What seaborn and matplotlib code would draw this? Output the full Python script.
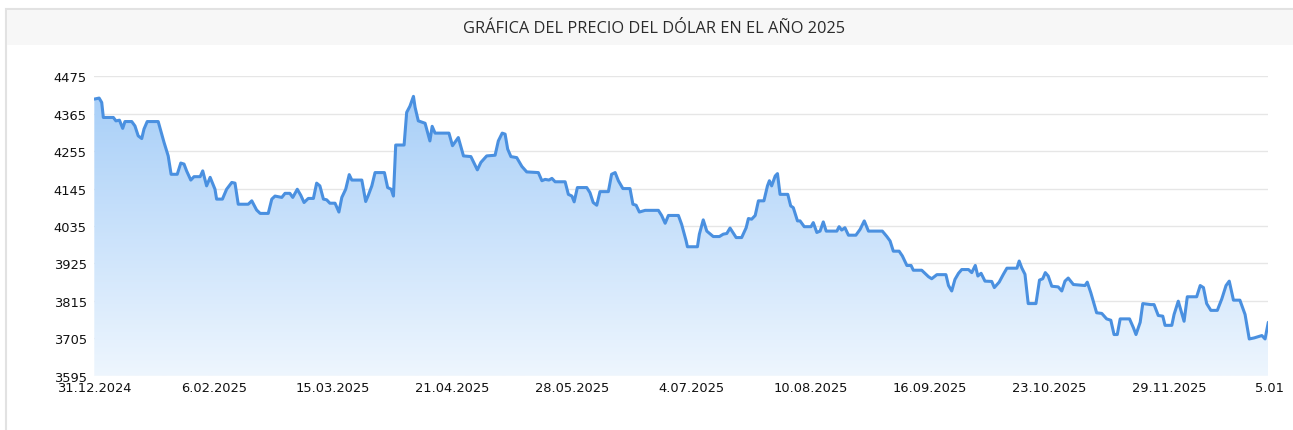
import numpy as np
import pandas as pd
import seaborn as sns
import matplotlib.pyplot as plt
from matplotlib.colors import LinearSegmentedColormap
from matplotlib.patches import Rectangle

# days counted from 31.12.2024, prices
days = [0, 1.5, 2.3, 2.8, 5.9, 6.7, 7.8, 8.8, 9.5, 11.6, 12.6, 13.6, 14.7, 15.4, 16.4, 19.8, 20.6, 21.6, 22.9, 23.8,
        25.7, 26.8, 27.8, 28.6, 29.9, 30.9, 32.8, 33.6, 34.8, 35.9, 37.4, 37.9, 39.7, 41.0, 42.6, 43.6, 44.6, 47.7, 48.8, 50.3,
        51.4, 53.9, 55.0, 56.0, 58.1, 59.1, 60.6, 61.5, 62.9, 64.0, 65.0, 66.3, 67.9, 68.9, 69.9, 71.0, 72.0, 73.0,
        74.6, 75.8, 76.7, 77.9, 79.0, 79.8, 82.9, 84.1, 84.9, 86.0, 87.0, 89.9, 90.9, 92.0, 92.7, 93.4, 96.0, 96.8, 97.8, 98.9,
        99.4, 100.4, 102.5, 104.0, 104.7, 105.6, 109.9, 111.0, 112.8, 114.4, 116.7, 118.7, 119.8, 121.6, 124.2, 125.2, 126.4,
        127.3, 128.1, 129.1, 130.9, 132.5, 134.0, 137.6, 138.7, 139.7, 140.9, 141.8, 142.8, 145.9,
        146.9, 148.0, 148.7, 149.7, 152.6, 153.6, 154.6, 155.7, 156.7, 159.3, 160.3, 161.4, 162.4, 163.8, 166.0, 166.9, 167.9,
        168.9, 170.7, 174.8, 175.8, 176.9, 177.9, 181.0, 182.0, 183.4, 183.8, 186.9, 187.5, 188.7, 189.8, 191.8, 193.7, 194.9,
        196.0, 197.0, 198.9, 200.6, 202.0, 202.7, 203.7, 204.8, 205.8, 207.5, 208.6, 209.2, 209.9, 211.0, 211.7, 212.5, 214.9,
        215.8, 216.6, 217.9, 218.7,
        220.0, 222.1, 222.8, 223.9, 224.9, 225.9, 226.8, 230.1, 230.8, 231.6, 232.6, 233.7, 236.0, 237.3, 238.6, 239.9, 244.2,
        245.6, 246.6, 247.6, 249.4, 250.4, 251.8, 253.1, 253.8, 256.4, 258.5, 259.5, 261.1, 263.9, 264.7, 265.7, 266.7, 267.8,
        268.8, 270.9, 271.9, 273.0, 273.8, 274.8, 276.0, 278.1, 278.9, 280.4, 281.7, 282.8, 285.9, 286.6, 287.4, 288.4, 289.4,
        291.8, 292.9, 293.9, 294.7, 295.6, 296.7, 298.7, 299.8, 300.8, 301.8, 303.4, 307.0, 307.7, 308.8, 310.6, 312.2, 313.7,
        315.0, 316.0, 317.0, 317.9, 320.8, 322.0, 322.8, 324.1, 324.9, 327.4, 328.4, 329.7, 331.1, 331.8, 333.9, 334.6, 335.9,
        337.7, 338.7, 341.6, 342.7, 343.7, 344.7, 346.0, 348.0, 349.4, 350.7, 351.7, 353.0, 355.0, 356.6, 357.9, 359.4, 361.8,
        362.8, 363.8]
prices = [4408, 4411, 4398, 4354, 4354, 4344, 4346, 4322, 4342, 4342, 4329, 4300, 4292, 4320, 4342, 4342, 4315, 4281, 4241, 4187,
          4187, 4220, 4217, 4197, 4170, 4180, 4180, 4197, 4153, 4178, 4143, 4114, 4114, 4143, 4163, 4161, 4099, 4099, 4109, 4082,
          4072, 4072, 4114, 4123, 4119, 4131, 4131, 4119, 4143, 4125, 4104, 4116, 4116, 4161, 4153, 4114, 4112, 4102,
          4102, 4076, 4119, 4143, 4186, 4170, 4170, 4107, 4125, 4153, 4192, 4192, 4148, 4143, 4123, 4273, 4273, 4369, 4387, 4416,
          4384, 4344, 4337, 4285, 4328, 4308, 4308, 4271, 4295, 4241, 4239, 4200, 4222, 4241, 4243, 4285, 4308,
          4305, 4261, 4239, 4236, 4210, 4194, 4192, 4168, 4172, 4170, 4175, 4165, 4165,
          4128, 4123, 4106, 4148, 4148, 4133, 4104, 4096, 4136, 4136, 4187, 4192, 4168, 4145, 4145, 4099, 4096,
          4076, 4081, 4081, 4066, 4043, 4066, 4066, 4040, 3991, 3974, 3974, 4011, 4053, 4020, 4004, 4004, 4011,
          4013, 4029, 4001, 4001, 4030, 4057, 4055, 4066, 4109, 4109, 4153, 4168, 4153, 4182, 4189, 4128, 4128,
          4094, 4089, 4050, 4050,
          4033, 4033, 4045, 4016, 4020, 4047, 4020, 4020, 4033, 4023, 4030, 4008, 4008, 4025, 4050, 4020, 4020,
          4004, 3991, 3961, 3961, 3947, 3919, 3919, 3905, 3905, 3886, 3880, 3892, 3892, 3860, 3844, 3878, 3896,
          3907, 3907, 3898, 3919, 3888, 3896, 3873, 3872, 3854, 3870, 3893, 3911, 3911, 3932, 3912, 3893, 3807,
          3807, 3876, 3880, 3898, 3888, 3858, 3856, 3844, 3873, 3882, 3863, 3860, 3870, 3839, 3780, 3778, 3762,
          3758, 3716, 3716, 3762, 3762, 3736, 3716, 3752, 3807, 3804, 3804, 3772, 3770, 3743, 3743, 3775, 3814,
          3755, 3827, 3827, 3860, 3854, 3807, 3787, 3787, 3821, 3860, 3873, 3817, 3817, 3775, 3703, 3706, 3713,
          3703, 3752]

tick_days = [0, 37, 74, 111, 148, 185, 222, 259, 296, 333, 370]
tick_labels = ["31.12.2024", "6.02.2025", "15.03.2025", "21.04.2025", "28.05.2025", "4.07.2025",
               "10.08.2025", "16.09.2025", "23.10.2025", "29.11.2025", "5.01.2026"]
y_ticks = [3595, 3705, 3815, 3925, 4035, 4145, 4255, 4365, 4475]
title = "GRÁFICA DEL PRECIO DEL DÓLAR EN EL AÑO 2025"

sns.set_style("white")
plt.rcParams['font.family'] = ['DejaVu Sans']

df = pd.DataFrame({"day": days, "price": prices})

W, H = 1293, 431
fig = plt.figure(figsize=(W / 100, H / 100), dpi=100)

# outer frame + header band (behind the axes)
fig.patches.append(Rectangle((6 / W, -0.01), 1.0, (H - 10) / H + 0.01, transform=fig.transFigure,
                             fc='white', ec='#e2e2e2', lw=1.5, zorder=-3))
fig.patches.append(Rectangle((7 / W, (H - 46) / H), 1.0, 35 / H, transform=fig.transFigure,
                             fc='#f7f7f7', ec='none', zorder=-2))
fig.text(654 / W, 1 - 29 / H, title, ha='center', va='center', fontsize=11.8,
         color='#2b2b2b', family=['Open Sans', 'DejaVu Sans'])

ax = fig.add_axes([94.3 / W, 1 - 376.7 / H, (1268.3 - 94.3) / W, (376.7 - 77.3) / H])
ax.set_facecolor('none')

# gradient area under the line
fill = ax.fill_between(df["day"], df["price"], y_ticks[0], color='none', lw=0)
cmap = LinearSegmentedColormap.from_list("area", ['#eef6fe', '#a8cff8'])
grad = np.linspace(0, 1, 256).reshape(-1, 1)
im = ax.imshow(grad, cmap=cmap, origin='lower', aspect='auto',
               extent=[0, max(days), y_ticks[0], max(prices)], zorder=1)
im.set_clip_path(fill.get_paths()[0], transform=ax.transData)

sns.lineplot(data=df, x="day", y="price", ax=ax, color='#4a90e0', lw=2.2,
             estimator=None, sort=False, zorder=3)

lab = dict(fontsize=9.4, color='#111111')
ax.set_xlim(0, max(days))
ax.set_ylim(y_ticks[0], y_ticks[-1])
ax.set_yticks(y_ticks)
ax.set_xticks(tick_days[:-1])
ax.set_xticklabels(tick_labels[:-1])
ax.yaxis.grid(True, color='#e6e6e6', lw=1)
ax.xaxis.grid(False)
ax.set_axisbelow(True)
for s in ax.spines.values():
    s.set_visible(False)
ax.tick_params(axis='y', length=0, pad=5.5, labelsize=lab['fontsize'], labelcolor=lab['color'])
ax.tick_params(axis='x', length=0, pad=4.0, labelsize=lab['fontsize'], labelcolor=lab['color'])
ax.set_xlabel("")
ax.set_ylabel("")

# last date label sits past the plot end; only its start shows, as in the chart box
tmp = ax.annotate(tick_labels[-1], xy=(tick_days[-1], 0), xycoords=ax.get_xaxis_transform(),
                  xytext=(0, -4.0), textcoords='offset points', ha='center', va='top',
                  annotation_clip=False, **lab)
fig.canvas.draw()
bb = tmp.get_window_extent()
tmp.remove()
fig.text(bb.x0 / W, bb.y1 / H, tick_labels[-1][:4], ha='left', va='top', **lab)

fig.savefig("out.png", dpi=100)
